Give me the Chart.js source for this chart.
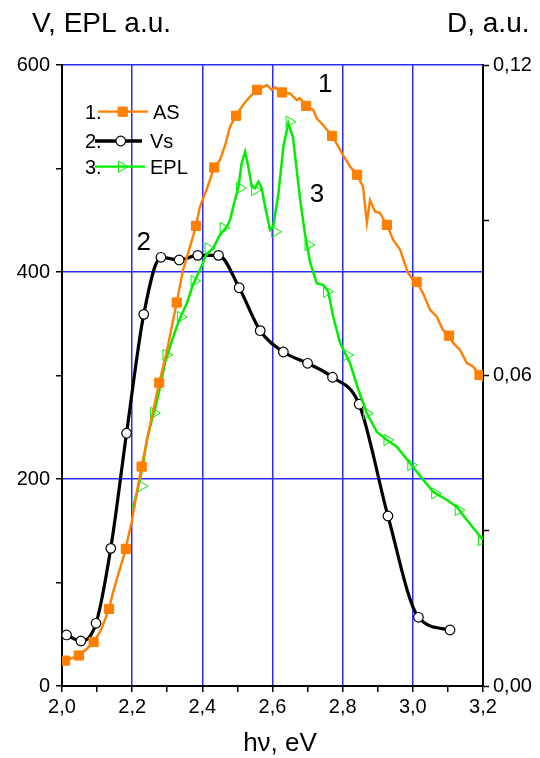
<!DOCTYPE html>
<html>
<head>
<meta charset="utf-8">
<script src="https://cdn.jsdelivr.net/npm/chart.js@4/dist/chart.umd.min.js"></script>
<style>
html,body{margin:0;padding:0;background:#fff;}
canvas{display:block;}
</style>
</head>
<body>
<canvas id="c" width="540" height="758"></canvas>
<script>
// ---- Curve 1: AS (absorption spectrum, right axis D, a.u.) ----
const asX = [2.000,2.009,2.029,2.048,2.068,2.090,2.111,2.134,2.145,2.160,2.170,2.182,2.188,2.199,2.213,2.227,2.251,2.277,2.298,2.313,2.327,2.345,2.365,2.382,2.393,2.412,2.434,2.450,2.465,2.479,2.496,2.516,2.536,2.556,2.584,2.598,2.607,2.627,2.650,2.669,2.678,2.696,2.716,2.726,2.744,2.770,2.793,2.801,2.821,2.841,2.858,2.869,2.878,2.892,2.906,2.926,2.944,2.964,2.986,3.001,3.011,3.029,3.049,3.068,3.086,3.103,3.115,3.135,3.154,3.172,3.190,3.200];
const asD = [0.0043,0.0049,0.0054,0.0059,0.0070,0.0085,0.0108,0.0149,0.0180,0.0215,0.0238,0.0265,0.0286,0.0318,0.0373,0.0424,0.0504,0.0586,0.0644,0.0694,0.0741,0.0804,0.0849,0.0889,0.0926,0.0959,0.1002,0.1016,0.1045,0.1081,0.1102,0.1123,0.1139,0.1152,0.1161,0.1152,0.1157,0.1147,0.1145,0.1132,0.1136,0.1121,0.1113,0.1097,0.1084,0.1063,0.1036,0.1026,0.1004,0.0988,0.0965,0.0895,0.0939,0.0917,0.0914,0.0891,0.0862,0.0843,0.0798,0.0785,0.0781,0.0759,0.0727,0.0714,0.0688,0.0677,0.0663,0.0649,0.0624,0.0617,0.0601,0.0589];
const asMarkX = [2.009,2.048,2.090,2.134,2.182,2.227,2.277,2.327,2.382,2.434,2.496,2.556,2.627,2.696,2.770,2.841,2.926,3.011,3.103,3.190];
const asMarkD = [0.0049,0.0059,0.0085,0.0149,0.0265,0.0424,0.0586,0.0741,0.0889,0.1002,0.1102,0.1152,0.1147,0.1121,0.1063,0.0988,0.0891,0.0781,0.0677,0.0601];

// ---- Curve 2: Vs (left axis) ----
const vsX = [2.013,2.054,2.097,2.139,2.184,2.233,2.282,2.334,2.387,2.446,2.505,2.565,2.631,2.700,2.771,2.847,2.929,3.016,3.106];
const vsV = [49.3,43.5,60.6,133.0,244.2,359.1,414.2,411.6,416.1,416.1,384.8,343.3,322.7,311.8,298.3,272.2,164.3,66.4,54.1];

// ---- Curve 3: EPL (left axis) ----
const eplX = [2.202,2.214,2.228,2.242,2.256,2.268,2.279,2.294,2.308,2.327,2.339,2.356,2.373,2.393,2.411,2.431,2.450,2.470,2.479,2.488,2.503,2.512,2.522,2.531,2.541,2.550,2.560,2.569,2.579,2.593,2.602,2.617,2.631,2.645,2.658,2.669,2.679,2.693,2.707,2.726,2.745,2.759,2.773,2.793,2.821,2.845,2.869,2.897,2.926,2.954,2.992,3.030,3.058,3.097,3.125,3.154,3.200];
const eplV = [172.0,187.4,208.7,237.7,257.0,271.5,287.9,313.0,327.8,347.1,357.5,369.8,387.4,401.9,416.4,423.2,435.7,443.8,450.2,463.1,482.4,505.0,516.2,501.7,482.4,480.9,487.2,480.9,463.1,440.6,443.8,476.0,521.1,543.7,530.7,498.6,469.6,435.7,409.7,389.1,387.4,381.0,356.8,331.1,311.8,286.0,263.5,245.7,237.7,231.2,215.2,199.0,187.7,179.7,173.2,160.4,141.1];
const eplMarkX = [2.227,2.262,2.297,2.338,2.377,2.417,2.460,2.507,2.550,2.607,2.648,2.702,2.755,2.812,2.869,2.927,2.995,3.063,3.130,3.196];
const eplMarkV = [193.2,263.8,319.8,356.5,391.3,422.9,442.5,481.2,479.2,438.9,545.2,426.1,381.0,319.8,263.5,237.7,213.5,186.2,170.0,141.1];

// ---- Axis ticks ----
const xTickLabels = ['2,0','2,2','2,4','2,6','2,8','3,0','3,2'];
const yLeftTicks = [0,200,400,600];
const yRightTicks = ['0,00','0,06','0,12'];

const ORANGE = '#ff7f00';
const GREEN = '#00ee00';
const BLUE = '#2b2bff';
const FONT = '"Liberation Sans", Arial, sans-serif';
const pts = (xs, ys) => xs.map((x, i) => ({x: x, y: ys[i]}));
const clear = 'rgba(0,0,0,0)';

const textPlugin = {
  id: 'texts',
  afterDraw(chart) {
    const ctx = chart.ctx;
    const sx = chart.scales.x, sy = chart.scales.y;
    ctx.save();
    ctx.fillStyle = '#000';
    ctx.textBaseline = 'alphabetic';
    ctx.font = '28px ' + FONT;
    ctx.textAlign = 'left';
    ctx.fillText('V, EPL a.u.', 32, 32);
    ctx.fillText('D, a.u.', 447, 32);
    ctx.font = '26px ' + FONT;
    ctx.textAlign = 'center';
    ctx.fillText('h\u03bd, eV', 280, 751);
    // curve numbers
    ctx.fillText('1', sx.getPixelForValue(2.75), sy.getPixelForValue(574));
    ctx.fillText('2', sx.getPixelForValue(2.233), sy.getPixelForValue(421));
    ctx.fillText('3', sx.getPixelForValue(2.727), sy.getPixelForValue(468));
    // legend
    const rows = [
      {num: '1.', name: 'AS', color: ORANGE, lw: 2.2, y: 111.7, x0: 98, x1: 148, mx: 122.7, ms: {pointStyle: 'rect', radius: 6.5, rotation: 0, borderWidth: 1}, fill: ORANGE, tx: 153},
      {num: '2.', name: 'Vs', color: '#000', lw: 3.5, y: 141, x0: 95, x1: 142, mx: 120.7, ms: {pointStyle: 'circle', radius: 4.8, rotation: 0, borderWidth: 1.2}, fill: '#fff', tx: 150},
      {num: '3.', name: 'EPL', color: GREEN, lw: 2.2, y: 166.7, x0: 95, x1: 145, mx: 121.7, ms: {pointStyle: 'triangle', radius: 6.5, rotation: 90, borderWidth: 1}, fill: clear, tx: 150}
    ];
    ctx.font = '20px ' + FONT;
    ctx.textAlign = 'left';
    rows.forEach(r => {
      ctx.fillStyle = '#000';
      ctx.fillText(r.num, 85, r.y + 7);
      ctx.fillText(r.name, r.tx, r.y + 7);
      ctx.strokeStyle = r.color;
      ctx.lineWidth = r.lw;
      ctx.beginPath();
      ctx.moveTo(r.x0, r.y);
      ctx.lineTo(r.x1, r.y);
      ctx.stroke();
      ctx.fillStyle = r.fill;
      ctx.strokeStyle = r.color;
      ctx.lineWidth = r.ms.borderWidth;
      Chart.helpers.drawPoint(ctx, r.ms, r.mx, r.y);
    });
    ctx.restore();
  }
};

const tickFont = {size: 20, family: FONT};

new Chart(document.getElementById('c'), {
  type: 'line',
  data: {
    datasets: [
      {label: 'AS markers', data: pts(asMarkX, asMarkD), yAxisID: 'y2', showLine: false,
       pointStyle: 'rect', pointRadius: 6.5, pointBackgroundColor: ORANGE, pointBorderColor: ORANGE, pointBorderWidth: 1},
      {label: 'AS', data: pts(asX, asD), yAxisID: 'y2', borderColor: ORANGE, borderWidth: 2.4, pointRadius: 0, tension: 0},
      {label: 'EPL markers', data: pts(eplMarkX, eplMarkV), yAxisID: 'y', showLine: false,
       pointStyle: 'triangle', pointRotation: 90, pointRadius: 6.5, pointBackgroundColor: clear, pointBorderColor: GREEN, pointBorderWidth: 1},
      {label: 'EPL', data: pts(eplX, eplV), yAxisID: 'y', borderColor: GREEN, borderWidth: 2.5, pointRadius: 0, tension: 0},
      {label: 'Vs', data: pts(vsX, vsV), yAxisID: 'y', borderColor: '#000', borderWidth: 3.2, cubicInterpolationMode: 'monotone',
       pointStyle: 'circle', pointRadius: 4.8, pointBackgroundColor: '#fff', pointBorderColor: '#000', pointBorderWidth: 1.2}
    ]
  },
  options: {
    responsive: false,
    animation: false,
    devicePixelRatio: 1,
    layout: {padding: {top: 65, left: 0, right: 0, bottom: 0}},
    plugins: {legend: {display: false}, tooltip: {enabled: false}},
    scales: {
      x: {
        type: 'linear', min: 2.0, max: 3.2,
        ticks: {
          stepSize: 0.1, autoSkip: false, maxRotation: 0, color: '#000', font: tickFont, padding: 3,
          callback: v => { const k = Math.round(v * 10); return k % 2 === 0 ? xTickLabels[(k - 20) / 2] : ''; }
        },
        grid: {
          color: c => { const k = Math.round(c.tick.value * 10); return (k % 2 === 0 && k !== 20 && k !== 32) ? BLUE : clear; },
          lineWidth: 1.5, tickColor: '#000', tickLength: 6, tickWidth: 1.5
        },
        border: {color: '#000', width: 2},
        afterFit: s => { s.height = 72; }
      },
      y: {
        position: 'left', min: 0, max: 600,
        ticks: {
          stepSize: 100, color: '#000', font: tickFont, padding: 6,
          callback: v => yLeftTicks.includes(Math.round(v)) ? String(Math.round(v)) : ''
        },
        grid: {
          color: c => { const v = Math.round(c.tick.value); return (v % 200 === 0 && v !== 0) ? BLUE : clear; },
          lineWidth: 1.5, tickColor: '#000', tickLength: 6, tickWidth: 1.5
        },
        border: {color: '#000', width: 2},
        afterFit: s => { s.width = 62; }
      },
      y2: {
        position: 'right', min: 0, max: 0.12,
        ticks: {
          stepSize: 0.03, color: '#000', font: tickFont, padding: 4,
          callback: v => { const k = Math.round(v * 100); return k % 6 === 0 ? yRightTicks[k / 6] : ''; }
        },
        grid: {drawOnChartArea: false, tickColor: '#000', tickLength: 6, tickWidth: 1.5},
        border: {color: '#000', width: 2},
        afterFit: s => { s.width = 57; }
      }
    }
  },
  plugins: [textPlugin]
});
</script>
</body>
</html>
